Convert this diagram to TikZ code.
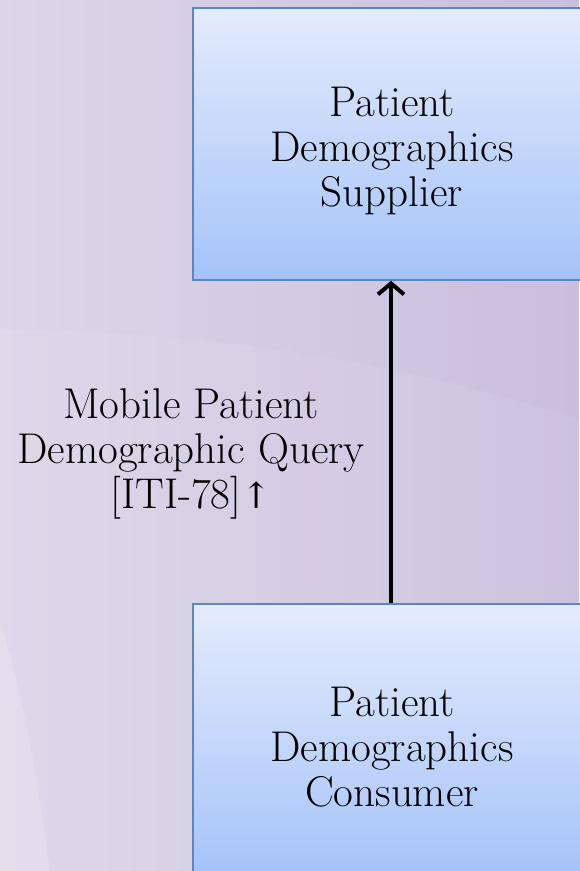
\documentclass[tikz,border=0pt]{standalone}
\usepackage{fontspec}
\newfontfamily\symfont{DejaVu Serif}
\usetikzlibrary{arrows.meta}
\definecolor{bgA}{HTML}{DCD6E8}
\definecolor{bgB}{HTML}{C9BEDD}
\definecolor{bgC}{HTML}{EEEBF4}
\definecolor{boxTop}{HTML}{E4EBFC}
\definecolor{boxBot}{HTML}{A5C3F9}
\definecolor{boxLine}{HTML}{5A86C4}
\tikzset{
  actor/.style={draw=boxLine, line width=1.5pt, top color=boxTop, bottom color=boxBot,
    minimum width=398pt, minimum height=272pt, inner sep=0pt, align=center,
    font=\fontsize{43}{45}\selectfont},
  lbl/.style={align=center, font=\fontsize{43}{45}\selectfont, inner sep=0pt},
  conn/.style={line width=4pt, -{Straight Barb[length=11pt,width=26pt,line width=4pt]}}
}
\begin{document}
\begin{tikzpicture}[x=1pt,y=-1pt]
\useasboundingbox (0,0) rectangle (579,871);
% background
\shade[left color=bgA, right color=bgB] (0,0) rectangle (579,871);
\fill[bgC, opacity=0.3] (0,620) .. controls (30,720) and (40,800) .. (50,871) -- (0,871) -- cycle;
\fill[white, opacity=0.07] (0,330) .. controls (200,330) and (400,360) .. (579,420) -- (579,871) -- (0,871) -- cycle;
% nodes
\node[actor] (sup) at (392,144) {};
\node[actor] (con) at (392,740) {};
\node[lbl] (supt) at (392,151) {Patient\\Demographics\\Supplier};
\node[lbl] (cont) at (392,747) {Patient\\Demographics\\Consumer};
\node[lbl] (q) at (191,454) {Mobile Patient\\Demographic Query\\{[ITI-78]}{\symfont\fontsize{36}{45}\selectfont ↑}};
\draw[conn] (con.north -| 391,0) -- (sup.south -| 391,0);
\end{tikzpicture}
\end{document}
